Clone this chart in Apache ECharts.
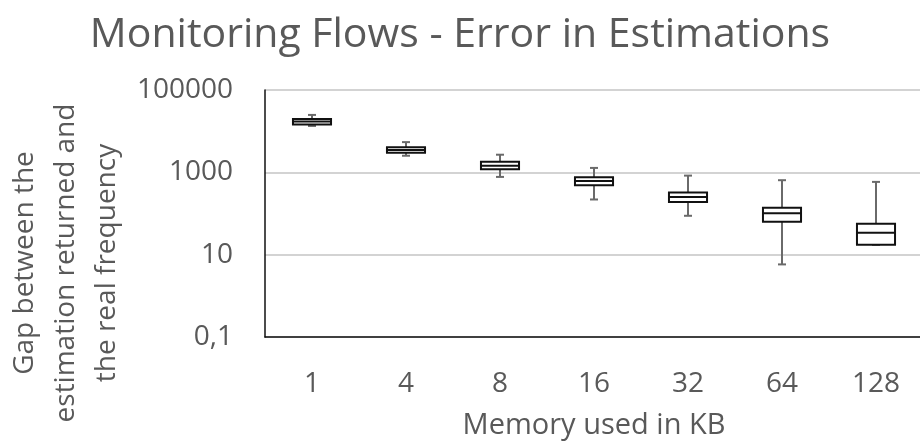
<!DOCTYPE html>
<html>
<head>
<meta charset="utf-8">
<style>
  html, body { margin: 0; padding: 0; background: #fff; }
  #chart { width: 920px; height: 444px; }
</style>
<script src="https://cdn.jsdelivr.net/npm/echarts@6/dist/echarts.min.js"></script>
</head>
<body>
<div id="chart"></div>
<script>
/* Monitoring flows — box plot of estimation error per memory size (log axis) */
const categories  = ["1", "4", "8", "16", "32", "64", "128"];
const whiskerLow  = [13400, 2530, 774, 219, 88, 5.8, 17.3];
const quartile1   = [14500, 2990, 1190, 488, 190, 63, 17.3];
const medians     = [17200, 3480, 1450, 620, 250, 101, 34];
const quartile3   = [19800, 4040, 1810, 762, 324, 138, 56];
const whiskerHigh = [24800, 5420, 2680, 1280, 833, 644, 586];

const INK = "#595959";
const FONT = "'Open Sans', sans-serif";

const rows = categories.map((c, i) =>
  [i, whiskerLow[i], quartile1[i], medians[i], quartile3[i], whiskerHigh[i]]);

function renderBox(params, api) {
  const i = api.value(0);
  const band = api.size([1, 0])[0];
  const boxW = band * 0.405;
  const capW = 8;
  const cx = api.coord([i, api.value(3)])[0];
  const yLo = api.coord([i, api.value(1)])[1];
  const yQ1 = api.coord([i, api.value(2)])[1];
  const yMed = api.coord([i, api.value(3)])[1];
  const yQ3 = api.coord([i, api.value(4)])[1];
  const yHi = api.coord([i, api.value(5)])[1];
  const whisk = { stroke: "#6a6a6a", lineWidth: 2 };
  const edge = { stroke: "#111", lineWidth: 2 };
  return {
    type: "group",
    children: [
      { type: "line", shape: { x1: cx, y1: yQ3, x2: cx, y2: yHi }, style: whisk },
      { type: "line", shape: { x1: cx - capW / 2, y1: yHi, x2: cx + capW / 2, y2: yHi }, style: whisk },
      { type: "line", shape: { x1: cx, y1: yQ1, x2: cx, y2: yLo }, style: whisk },
      { type: "line", shape: { x1: cx - capW / 2, y1: yLo, x2: cx + capW / 2, y2: yLo }, style: whisk },
      { type: "rect", shape: { x: cx - boxW / 2, y: yQ3, width: boxW, height: yQ1 - yQ3 },
        style: { fill: "#fff", stroke: "#111", lineWidth: 2 } },
      { type: "line", shape: { x1: cx - boxW / 2, y1: yMed, x2: cx + boxW / 2, y2: yMed }, style: edge },
    ],
  };
}

const chart = echarts.init(document.getElementById("chart"), null, { renderer: "canvas" });
chart.setOption({
  animation: false,
  title: {
    text: "Monitoring Flows - Error in Estimations",
    left: "center", top: 10,
    textStyle: { color: INK, fontFamily: FONT, fontSize: 41, fontWeight: "normal" },
  },
  grid: { left: 265, top: 90, width: 658, bottom: 107, outerBoundsMode: "none", containLabel: false },
  xAxis: {
    type: "category",
    data: categories,
    name: "Memory used in KB",
    nameLocation: "middle",
    nameGap: 74,
    nameTextStyle: { color: INK, fontFamily: FONT, fontSize: 29 },
    axisLine: { lineStyle: { color: "#111", width: 1.5 } },
    axisTick: { show: false },
    axisLabel: { color: INK, fontFamily: FONT, fontSize: 28, margin: 33 },
    splitLine: { show: false },
  },
  yAxis: {
    type: "log",
    logBase: 10,
    min: 0.1,
    max: 100000,
    interval: 2,
    axisLine: { show: true, lineStyle: { color: "#111", width: 1.5 } },
    axisTick: { show: false },
    axisLabel: {
      color: INK, fontFamily: FONT, fontSize: 28, margin: 32,
      formatter: (v) => String(v).replace(".", ","),
    },
    splitLine: { lineStyle: { color: "#c4c4c4", width: 1.5 } },
  },
  graphic: [{
    type: "text",
    x: 66, y: 263,
    rotation: Math.PI / 2,
    style: {
      text: "Gap between the\nestimation returned and\nthe real frequency",
      fill: INK, font: "28px 'Open Sans', sans-serif",
      align: "center", verticalAlign: "middle", lineHeight: 41,
    },
  }],
  series: [{
    type: "custom",
    renderItem: renderBox,
    data: rows,
    encode: { x: 0, y: [1, 2, 3, 4, 5] },
    clip: false,
  }],
});
</script>
</body>
</html>
